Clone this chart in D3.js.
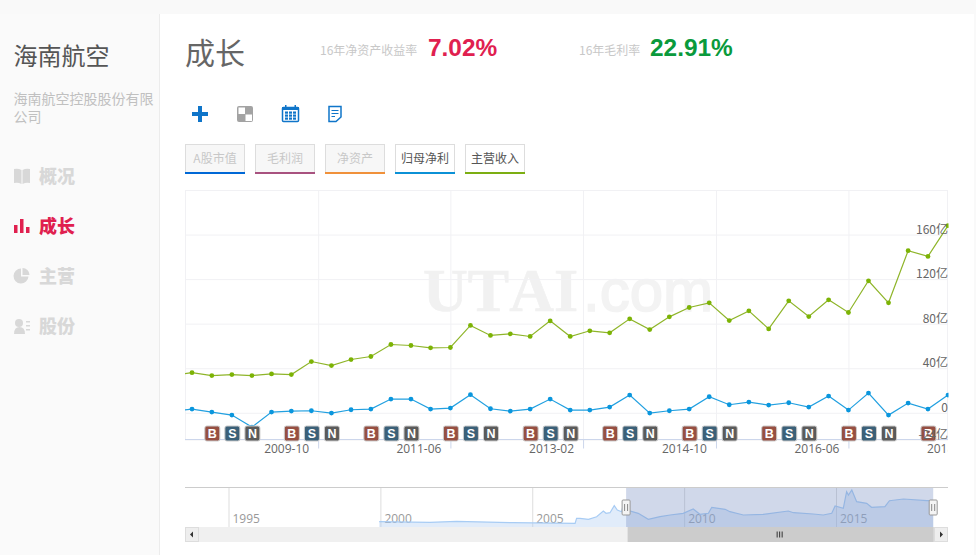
<!DOCTYPE html>
<html>
<head>
<meta charset="utf-8">
<title>海南航空 成长</title>
<script src="https://cdn.jsdelivr.net/npm/d3@7/dist/d3.min.js"></script>
<style>
  html, body { margin: 0; padding: 0; background: #f9f9f9; overflow: hidden; }
  svg { display: block; }
  text { font-family: "Noto Sans CJK SC", "Open Sans", sans-serif; }
</style>
</head>
<body>
<svg id="page" width="976" height="555"></svg>
<script>
// quarter ends, the first one sits just left of the plot and gets clipped
const QUARTERS = [
  '2007-12-31',
  '2008-03-31', '2008-06-30', '2008-09-30', '2008-12-31',
  '2009-03-31', '2009-06-30', '2009-09-30', '2009-12-31',
  '2010-03-31', '2010-06-30', '2010-09-30', '2010-12-31',
  '2011-03-31', '2011-06-30', '2011-09-30', '2011-12-31',
  '2012-03-31', '2012-06-30', '2012-09-30', '2012-12-31',
  '2013-03-31', '2013-06-30', '2013-09-30', '2013-12-31',
  '2014-03-31', '2014-06-30', '2014-09-30', '2014-12-31',
  '2015-03-31', '2015-06-30', '2015-09-30', '2015-12-31',
  '2016-03-31', '2016-06-30', '2016-09-30', '2016-12-31',
  '2017-03-31', '2017-06-30', '2017-09-30'
];
// 主营收入, 亿
const REVENUE = [
  33.4, 36.0, 33.4, 34.3, 33.4, 34.9, 34.3, 46.0, 42.4, 47.8,
  50.5, 61.3, 60.4, 58.3, 58.6, 78.4, 69.4, 70.9, 68.5, 82.5,
  68.5, 73.6, 71.8, 84.3, 74.7, 86.1, 94.5, 98.7, 82.8, 91.5,
  75.3, 100.5, 86.4, 101.4, 90.0, 118.5, 98.7, 145.5, 140.4, 168.0
];
// 归母净利, 亿
const NET_PROFIT = [
  1.5, 3.3, 0.6, -2.1, -12.9, 0.6, 1.5, 1.8, -0.3, 2.7,
  3.3, 12.3, 12.3, 3.3, 4.2, 16.2, 3.6, 1.5, 3.3, 12.3,
  2.4, 2.4, 5.1, 15.9, -0.3, 1.8, 3.3, 14.4, 7.2, 9.6,
  6.9, 9.0, 5.1, 15.0, 2.4, 17.7, -2.1, 8.7, 3.3, 15.9
];
const MARKERS = [
  '', '', 'B', 'S', 'N', '', 'B', 'S', 'N', '',
  'B', 'S', 'N', '', 'B', 'S', 'N', '', 'B', 'S',
  'N', '', 'B', 'S', 'N', '', 'B', 'S', 'N', '',
  'B', 'S', 'N', '', 'B', 'S', 'N', '', 'B', ''
];
const MARKER_COLORS = { B: '#964f42', S: '#3b6078', N: '#5a5a5a' };
const Y_TICKS = [-24, 0, 40, 80, 120, 160, 200];
const X_TICKS = ['2009-10-31', '2011-06-30', '2013-02-28', '2014-10-31', '2016-06-30', '2018-02-28'];

// overview strip (A股市值)
const NAV_YEARS = [
  1999.96, 2001.63, 2002.51, 2004.37, 2006.41, 2006.46, 2006.57, 2006.85, 2007.12, 2007.34,
  2007.43, 2007.56, 2007.70, 2007.80, 2007.94, 2008.01, 2008.11, 2008.49, 2008.82, 2009.21,
  2009.54, 2009.97, 2010.30, 2010.52, 2010.80, 2010.91, 2011.35, 2011.51, 2011.95, 2012.61,
  2013.43, 2013.60, 2014.25, 2014.58, 2014.86, 2014.97, 2015.24, 2015.35, 2015.41, 2015.52,
  2015.68, 2016.01, 2016.17, 2016.61, 2016.76, 2017.22, 2017.99, 2018.20
];
const NAV_VALUES = [
  53, 47, 57, 43, 37, 87, 87, 77, 103, 160,
  137, 143, 213, 170, 153, 237, 170, 137, 77, 103,
  120, 137, 180, 127, 137, 197, 177, 153, 120, 127,
  160, 143, 130, 120, 137, 210, 187, 353, 320, 370,
  253, 237, 197, 203, 263, 280, 263, 263
];
const NAV_TICKS = [1995, 2000, 2005, 2010, 2015];
const NAV_SELECTED = [2008.09, 2018.2];

const BUTTONS = [
  { label: 'A股市值', color: '#0068d6', on: false },
  { label: '毛利润', color: '#a8527f', on: false },
  { label: '净资产', color: '#f0913a', on: false },
  { label: '归母净利', color: '#0b91d6', on: true },
  { label: '主营收入', color: '#7cae12', on: true }
];
const MENU = [
  { label: '概况', color: '#d8d8d8' },
  { label: '成长', color: '#e0204f' },
  { label: '主营', color: '#d8d8d8' },
  { label: '股份', color: '#d8d8d8' }
];

const svg = d3.select('#page');
const parse = d3.utcParse('%Y-%m-%d');
const BLUE = '#0f75c9';

// page frame
svg.append('rect').attr('x', 160).attr('y', 14).attr('width', 814).attr('height', 541).attr('fill', '#fff');
svg.append('rect').attr('x', 0).attr('y', 14).attr('width', 159).attr('height', 541).attr('fill', '#fafafa');
svg.append('line').attr('x1', 159.5).attr('x2', 159.5).attr('y1', 14).attr('y2', 555).attr('stroke', '#ececec');

// sidebar
svg.append('text').text('海南航空').attr('x', 13.5).attr('y', 65).attr('font-size', 24).attr('fill', '#555');
svg.append('text').text('海南航空控股股份有限').attr('x', 13.5).attr('y', 104).attr('font-size', 14).attr('fill', '#c0c0c0');
svg.append('text').text('公司').attr('x', 13.5).attr('y', 122).attr('font-size', 14).attr('fill', '#c0c0c0');

const menu = svg.selectAll('.menu').data(MENU).enter().append('g')
  .attr('class', 'menu')
  .attr('transform', (d, i) => `translate(0,${176 + i * 50})`);
menu.append('text').text(d => d.label)
  .attr('x', 39).attr('y', 6.5).attr('font-size', 18).attr('font-weight', 900).attr('fill', d => d.color);

// menu icons
const iconBook = svg.append('g').attr('transform', 'translate(14,176)').attr('fill', '#d8d8d8');
iconBook.append('path').attr('d', 'M0,-7 Q4,-8 7.5,-6 V8 Q4,6 0,7 Z');
iconBook.append('path').attr('d', 'M8.5,-6 Q12,-8 16,-7 V7 Q12,6 8.5,8 Z');
const iconBars = svg.append('g').attr('transform', 'translate(14,226)').attr('fill', '#e0204f');
iconBars.append('rect').attr('x', 0).attr('y', -1).attr('width', 3.5).attr('height', 8);
iconBars.append('rect').attr('x', 6).attr('y', -7).attr('width', 3.5).attr('height', 14);
iconBars.append('rect').attr('x', 12).attr('y', 1).attr('width', 3.5).attr('height', 6);
const iconPie = svg.append('g').attr('transform', 'translate(21.5,276)').attr('fill', '#d8d8d8');
iconPie.append('path').attr('d', 'M-0.5,-7.5 A7.5,7.5 0 1 0 7,0.5 H-0.5 Z');
iconPie.append('path').attr('d', 'M1,-8 A7,7 0 0 1 8,-1 H1 Z');
const iconUser = svg.append('g').attr('transform', 'translate(14,326)').attr('fill', '#d8d8d8');
iconUser.append('circle').attr('cx', 5).attr('cy', -3).attr('r', 4);
iconUser.append('path').attr('d', 'M0,8 Q0,1 5.5,1 Q11,1 11,8 Z');
iconUser.append('rect').attr('x', 12).attr('y', -5).attr('width', 4).attr('height', 1.5);
iconUser.append('rect').attr('x', 12).attr('y', -1).attr('width', 4).attr('height', 1.5);
iconUser.append('rect').attr('x', 12).attr('y', 3).attr('width', 4).attr('height', 1.5);

// header
svg.append('text').text('成长').attr('x', 185).attr('y', 64).attr('font-size', 30).attr('fill', '#666');
svg.append('text').text('16年净资产收益率').attr('x', 320).attr('y', 55).attr('font-size', 12).attr('fill', '#c8c8c8');
svg.append('text').text('7.02%').attr('x', 428).attr('y', 55.5).attr('font-size', 24.4).attr('font-weight', 700)
  .style('font-family', '"Liberation Sans"').attr('fill', '#e0204f');
svg.append('text').text('16年毛利率').attr('x', 579).attr('y', 55).attr('font-size', 12).attr('fill', '#c8c8c8');
svg.append('text').text('22.91%').attr('x', 650).attr('y', 55.5).attr('font-size', 24.4).attr('font-weight', 700)
  .style('font-family', '"Liberation Sans"').attr('fill', '#0a9a3c');

// toolbar icons
svg.append('path').attr('d', 'M198,106 h4 v6 h6 v4 h-6 v6 h-4 v-6 h-6 v-4 h6 Z').attr('fill', BLUE);
svg.append('rect').attr('x', 237).attr('y', 106).attr('width', 16).attr('height', 16).attr('rx', 2).attr('fill', '#a3a3a3');
svg.append('rect').attr('x', 238.5).attr('y', 107.5).attr('width', 6.5).attr('height', 6.5).attr('fill', '#fff');
svg.append('rect').attr('x', 245.5).attr('y', 114.5).attr('width', 6.5).attr('height', 6.5).attr('fill', '#fff');
svg.append('rect').attr('x', 282.5).attr('y', 107.5).attr('width', 16).attr('height', 14).attr('rx', 1)
  .attr('fill', '#fff').attr('stroke', BLUE).attr('stroke-width', 1.5);
svg.append('rect').attr('x', 282).attr('y', 107).attr('width', 17).attr('height', 3).attr('fill', BLUE);
svg.append('rect').attr('x', 285).attr('y', 105).attr('width', 1.5).attr('height', 3).attr('fill', BLUE);
svg.append('rect').attr('x', 294.5).attr('y', 105).attr('width', 1.5).attr('height', 3).attr('fill', BLUE);
svg.append('g').selectAll('rect').data(d3.range(9)).enter().append('rect')
  .attr('x', d => 285 + (d % 3) * 4).attr('y', d => 111.5 + Math.floor(d / 3) * 3)
  .attr('width', 3).attr('height', 2.2).attr('fill', BLUE);
svg.append('path').attr('d', 'M329,106.5 H341 V117 L336,121.5 H329 Z')
  .attr('fill', '#fff').attr('stroke', BLUE).attr('stroke-width', 1.5);
svg.append('path').attr('d', 'M331.5,110.5 H338.5 M331.5,113.5 H338.5 M331.5,116.5 H335')
  .attr('stroke', BLUE).attr('stroke-width', 1.2);

// series toggles
const buttons = svg.selectAll('.toggle').data(BUTTONS).enter().append('g')
  .attr('class', 'toggle')
  .attr('transform', (d, i) => `translate(${185 + i * 70},144)`);
buttons.append('rect').attr('x', 0.5).attr('y', 0.5).attr('width', 59).attr('height', 28)
  .attr('fill', d => d.on ? '#fff' : '#f7f7f7').attr('stroke', '#ddd');
buttons.append('rect').attr('x', 0).attr('y', 28).attr('width', 60).attr('height', 2).attr('fill', d => d.color);
buttons.append('text').text(d => d.label).attr('x', 30).attr('y', 19)
  .attr('text-anchor', 'middle').attr('font-size', 12).attr('fill', d => d.on ? '#555' : '#c8c8c8');

// main chart
const x = d3.scaleUtc().domain([parse('2008-03-31'), parse('2017-09-30')]).range([192, 948]);
const y = d3.scaleLinear().domain([-24, 200]).range([439.5, 190]);
const dates = QUARTERS.map(parse);
const LEFT = 185;
const RIGHT = 948;

const defs = svg.append('defs');
defs.append('clipPath').attr('id', 'plot-clip').append('rect')
  .attr('x', LEFT).attr('y', 190).attr('width', RIGHT - LEFT + 0.5).attr('height', 253);
defs.append('clipPath').attr('id', 'axis-clip').append('rect')
  .attr('x', LEFT).attr('y', 190).attr('width', RIGHT - LEFT - 0.5).attr('height', 280);

// watermark
svg.append('text').text('UTAI').attr('x', 423).attr('y', 311).attr('font-size', 62).attr('font-weight', 700)
  .style('font-family', '"Liberation Serif"').style('font-kerning', 'none')
  .attr('fill', '#f1f1f1').attr('stroke', '#f1f1f1').attr('stroke-width', 0.6);
svg.append('text').text('.com').attr('x', 583).attr('y', 311).attr('font-size', 60)
  .style('font-family', '"Liberation Sans"')
  .attr('fill', '#f3f3f3').attr('stroke', '#f3f3f3').attr('stroke-width', 1.6);

// grid
const yGrid = svg.append('g').attr('transform', `translate(${RIGHT},0)`)
  .call(d3.axisLeft(y).tickValues(Y_TICKS).tickSize(RIGHT - LEFT).tickFormat(''));
yGrid.select('.domain').remove();
yGrid.selectAll('.tick line').attr('stroke', '#f1f1f4');

const xGrid = svg.append('g').attr('clip-path', 'url(#axis-clip)')
  .append('g').attr('transform', 'translate(0,439.5)')
  .call(d3.axisBottom(x).tickValues(X_TICKS.map(parse)).tickSize(-249).tickFormat(''));
xGrid.select('.domain').remove();
xGrid.selectAll('.tick line').attr('stroke', '#f1f1f4');
svg.append('line').attr('x1', LEFT + 0.5).attr('x2', LEFT + 0.5).attr('y1', 190).attr('y2', 439).attr('stroke', '#f1f1f4');
svg.append('line').attr('x1', RIGHT - 0.5).attr('x2', RIGHT - 0.5).attr('y1', 190).attr('y2', 439).attr('stroke', '#f1f1f4');

// bottom axis, labels sit left of their tick like the original
const xAxis = svg.append('g').attr('clip-path', 'url(#axis-clip)')
  .append('g').attr('transform', 'translate(0,439.5)')
  .call(d3.axisBottom(x).tickValues(X_TICKS.map(parse)).tickSize(9).tickPadding(5).tickFormat(d3.utcFormat('%Y-%m')));
xAxis.select('.domain').remove();
xAxis.selectAll('.tick line').attr('stroke', '#ccd6eb');
xAxis.selectAll('.tick text').attr('x', -32).attr('y', 5).attr('font-size', 12).attr('fill', '#666')
  .style('font-family', '"Open Sans"');
svg.append('line').attr('x1', LEFT).attr('x2', RIGHT).attr('y1', 439.5).attr('y2', 439.5).attr('stroke', '#ccd6eb');

// series
const plot = svg.append('g').attr('clip-path', 'url(#plot-clip)');
const line = d3.line().x((d, i) => x(dates[i])).y(d => y(d));
const SERIES = [
  { values: NET_PROFIT, line: '#22a0e0', dot: '#0a96dd' },
  { values: REVENUE, line: '#8fb52a', dot: '#7cb305' }
];
SERIES.forEach(s => {
  plot.append('path').datum(s.values).attr('d', line)
    .attr('fill', 'none').attr('stroke', s.line).attr('stroke-width', 1.2);
  plot.selectAll(null).data(s.values).enter().append('circle')
    .attr('cx', (d, i) => x(dates[i])).attr('cy', d => y(d)).attr('r', 2.4).attr('fill', s.dot);
});

// B S N flags
const flags = plot.selectAll('.flag').data(MARKERS.map((m, i) => ({ m, date: dates[i] })).filter(d => d.m)).enter().append('g')
  .attr('class', 'flag')
  .attr('transform', d => `translate(${x(d.date) + 0.5},433.5)`);
flags.append('rect').attr('x', -7.5).attr('y', -7.5).attr('width', 15).attr('height', 15).attr('rx', 2)
  .attr('fill', d => MARKER_COLORS[d.m]).attr('stroke', '#ccc');
flags.append('text').text(d => d.m).attr('y', 4.5).attr('text-anchor', 'middle')
  .attr('font-size', 12.5).attr('font-weight', 700).attr('fill', '#fff').style('font-family', '"Liberation Sans"');

// y labels go over the flags
const yAxis = svg.append('g').attr('transform', `translate(${RIGHT},0)`)
  .call(d3.axisLeft(y).tickValues(Y_TICKS.filter(d => d < 200)).tickSize(0)
    .tickFormat(d => d === 0 ? '0' : d + '亿'));
yAxis.select('.domain').remove();
yAxis.selectAll('.tick text').attr('x', 0).attr('dy', '-0.12em').attr('font-size', 12).attr('fill', '#666');

// overview strip
const navX = d3.scaleLinear().domain([1995, 2015]).range([228.5, 836]);
const navY = d3.scaleLinear().domain([0, 390]).range([527, 488]);
const navTop = 487.5;
svg.append('line').attr('x1', LEFT).attr('x2', RIGHT).attr('y1', navTop).attr('y2', navTop).attr('stroke', '#ccc');

const navAxis = svg.append('g').attr('transform', 'translate(0,527)')
  .call(d3.axisBottom(navX).tickValues(NAV_TICKS).tickSize(-39).tickFormat(d3.format('d')));
navAxis.select('.domain').remove();
navAxis.selectAll('.tick line').attr('stroke', '#ddd');
navAxis.selectAll('.tick text').attr('text-anchor', 'start').attr('x', 3.5).attr('y', -4).attr('dy', 0)
  .attr('font-size', 12).attr('fill', '#999').style('font-family', '"Open Sans"');

const navArea = d3.area().x((d, i) => navX(NAV_YEARS[i])).y0(527).y1(d => navY(d));
const navLine = d3.line().x((d, i) => navX(NAV_YEARS[i])).y(d => navY(d));
svg.append('path').datum(NAV_VALUES).attr('d', navArea).attr('fill', '#a9c8f2').attr('opacity', 0.35);
svg.append('path').datum(NAV_VALUES).attr('d', navLine).attr('fill', 'none').attr('stroke', '#a8ccf4').attr('stroke-width', 1.2);

const selX0 = navX(NAV_SELECTED[0]);
const selX1 = navX(NAV_SELECTED[1]);
svg.append('rect').attr('x', selX0).attr('y', 488).attr('width', selX1 - selX0).attr('height', 39)
  .attr('fill', '#7088c0').attr('opacity', 0.33);

// scrollbar
svg.append('rect').attr('x', LEFT).attr('y', 527).attr('width', RIGHT - LEFT).attr('height', 15).attr('fill', '#f0f0f0');
svg.append('rect').attr('x', selX0 + 1.5).attr('y', 527).attr('width', selX1 - selX0 - 1).attr('height', 15).attr('fill', '#ccc');
[LEFT, RIGHT - 14].forEach((bx, i) => {
  svg.append('rect').attr('x', bx + 0.5).attr('y', 527.5).attr('width', 13).attr('height', 14)
    .attr('fill', '#eee').attr('stroke', '#ddd');
  const cx = bx + 7;
  svg.append('path').attr('d', i === 0
    ? `M${cx - 2},534.5 L${cx + 1},531.5 V537.5 Z`
    : `M${cx + 2},534.5 L${cx - 1},531.5 V537.5 Z`).attr('fill', '#333');
});
svg.append('path').attr('d', d3.range(3).map(k => `M${(selX0 + selX1) / 2 + k * 2.5 - 2.5},531.5 V537.5`).join(' '))
  .attr('stroke', '#333').attr('stroke-width', 1);

// range handles
[selX0, selX1].forEach(hx => {
  svg.append('rect').attr('x', hx - 4).attr('y', 500).attr('width', 8).attr('height', 15).attr('rx', 1)
    .attr('fill', '#f4f4f4').attr('stroke', '#999');
  svg.append('path').attr('d', `M${hx - 1.5},504 V511 M${hx + 1.5},504 V511`).attr('stroke', '#888');
});
</script>
</body>
</html>
